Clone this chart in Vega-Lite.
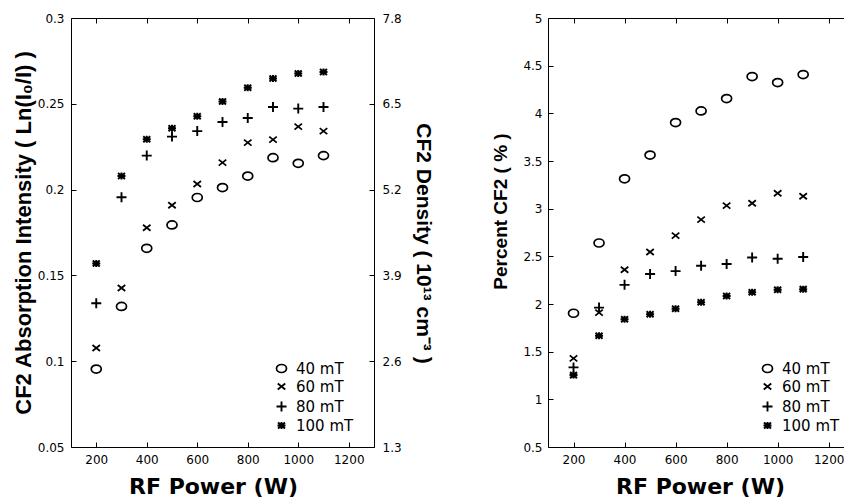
{
  "$schema": "https://vega.github.io/schema/vega-lite/v6.json",
  "padding": {"left": 12, "top": 12, "right": 0, "bottom": 0},
  "background": "white",
  "spacing": 57,
  "config": {
    "view": {"stroke": null},
    "axis": {"domainColor": "black", "domainWidth": 1, "tickColor": "black", "tickWidth": 1, "tickSize": -5, "grid": false, "labelFont": "DejaVu Sans", "labelFontSize": 12, "labelColor": "black", "titleColor": "black", "labelPadding": 12},
    "legend": {"labelFont": "DejaVu Sans", "labelFontSize": 15, "labelColor": "black", "padding": 0, "rowPadding": 2, "labelOffset": 7}
  },
  "datasets": {
    "cf2": [
      {"power": 200, "pressure": "40 mT", "absorbance": 0.0954, "percent": 1.903},
      {"power": 300, "pressure": "40 mT", "absorbance": 0.1319, "percent": 2.640},
      {"power": 400, "pressure": "40 mT", "absorbance": 0.1658, "percent": 3.313},
      {"power": 500, "pressure": "40 mT", "absorbance": 0.1794, "percent": 3.562},
      {"power": 600, "pressure": "40 mT", "absorbance": 0.1954, "percent": 3.903},
      {"power": 700, "pressure": "40 mT", "absorbance": 0.2012, "percent": 4.025},
      {"power": 800, "pressure": "40 mT", "absorbance": 0.2079, "percent": 4.155},
      {"power": 900, "pressure": "40 mT", "absorbance": 0.2186, "percent": 4.386},
      {"power": 1000, "pressure": "40 mT", "absorbance": 0.2153, "percent": 4.323},
      {"power": 1100, "pressure": "40 mT", "absorbance": 0.2198, "percent": 4.407},
      {"power": 200, "pressure": "60 mT", "absorbance": 0.1077, "percent": 1.430},
      {"power": 300, "pressure": "60 mT", "absorbance": 0.1427, "percent": 1.910},
      {"power": 400, "pressure": "60 mT", "absorbance": 0.1778, "percent": 2.359},
      {"power": 500, "pressure": "60 mT", "absorbance": 0.1909, "percent": 2.545},
      {"power": 600, "pressure": "60 mT", "absorbance": 0.2033, "percent": 2.717},
      {"power": 700, "pressure": "60 mT", "absorbance": 0.2157, "percent": 2.885},
      {"power": 800, "pressure": "60 mT", "absorbance": 0.2274, "percent": 3.032},
      {"power": 900, "pressure": "60 mT", "absorbance": 0.2291, "percent": 3.057},
      {"power": 1000, "pressure": "60 mT", "absorbance": 0.2367, "percent": 3.162},
      {"power": 1100, "pressure": "60 mT", "absorbance": 0.2341, "percent": 3.130},
      {"power": 200, "pressure": "80 mT", "absorbance": 0.1338, "percent": 1.335},
      {"power": 300, "pressure": "80 mT", "absorbance": 0.1955, "percent": 1.962},
      {"power": 400, "pressure": "80 mT", "absorbance": 0.2198, "percent": 2.201},
      {"power": 500, "pressure": "80 mT", "absorbance": 0.2309, "percent": 2.314},
      {"power": 600, "pressure": "80 mT", "absorbance": 0.2341, "percent": 2.345},
      {"power": 700, "pressure": "80 mT", "absorbance": 0.2394, "percent": 2.401},
      {"power": 800, "pressure": "80 mT", "absorbance": 0.2417, "percent": 2.419},
      {"power": 900, "pressure": "80 mT", "absorbance": 0.2481, "percent": 2.488},
      {"power": 1000, "pressure": "80 mT", "absorbance": 0.2472, "percent": 2.475},
      {"power": 1100, "pressure": "80 mT", "absorbance": 0.2481, "percent": 2.493},
      {"power": 200, "pressure": "100 mT", "absorbance": 0.1569, "percent": 1.254},
      {"power": 300, "pressure": "100 mT", "absorbance": 0.2079, "percent": 1.668},
      {"power": 400, "pressure": "100 mT", "absorbance": 0.2293, "percent": 1.840},
      {"power": 500, "pressure": "100 mT", "absorbance": 0.2357, "percent": 1.893},
      {"power": 600, "pressure": "100 mT", "absorbance": 0.2428, "percent": 1.949},
      {"power": 700, "pressure": "100 mT", "absorbance": 0.2514, "percent": 2.019},
      {"power": 800, "pressure": "100 mT", "absorbance": 0.2594, "percent": 2.085},
      {"power": 900, "pressure": "100 mT", "absorbance": 0.2648, "percent": 2.124},
      {"power": 1000, "pressure": "100 mT", "absorbance": 0.2677, "percent": 2.149},
      {"power": 1100, "pressure": "100 mT", "absorbance": 0.2685, "percent": 2.156}
    ]
  },
  "hconcat": [
    {
      "width": 303,
      "height": 429,
      "data": {"name": "cf2"},
      "layer": [
        {
          "mark": {"type": "point", "filled": false, "color": "black", "opacity": 1, "size": 100},
          "encoding": {
            "x": {"field": "power", "type": "quantitative", "scale": {"domain": [100, 1300], "nice": false, "zero": false},
              "axis": {"values": [200, 400, 600, 800, 1000, 1200], "format": "d", "title": "RF Power (W)", "titleFont": "DejaVu Sans", "titleFontSize": 22, "titleFontWeight": "bold", "titlePadding": 11, "titleX": 142}},
            "y": {"field": "absorbance", "type": "quantitative", "scale": {"domain": [0.05, 0.3], "nice": false, "zero": false},
              "axis": {"values": [0.05, 0.1, 0.15, 0.2, 0.25, 0.3], "format": "~g", "title": "CF2 Absorption Intensity ( Ln(I₀/I) )", "titleFont": "Liberation Sans", "titleFontSize": 22, "titleFontWeight": "bold", "titlePadding": 2}},
            "shape": {"field": "pressure", "type": "nominal",
              "scale": {"domain": ["40 mT", "60 mT", "80 mT", "100 mT"], "range": ["M-1,0A1,0.8,0,1,1,1,0A1,0.8,0,1,1,-1,0Z", "M-0.75,-0.6L0.75,0.6M-0.75,0.6L0.75,-0.6", "M-1,0L1,0M0,-1L0,1", "M-0.8,0L0.8,0M0,-0.7L0,0.7M-0.7,-0.6L0.7,0.6M-0.7,0.6L0.7,-0.6"]},
              "legend": {"title": null, "orient": "none", "legendX": 203, "legendY": 343}},
            "strokeWidth": {"field": "pressure", "type": "nominal",
              "scale": {"domain": ["40 mT", "60 mT", "80 mT", "100 mT"], "range": [1.7, 2, 1.1, 2]},
              "legend": {"title": null, "orient": "none", "legendX": 203, "legendY": 343}}
          }
        },
        {
          "mark": {"type": "point", "opacity": 0},
          "encoding": {
            "x": {"field": "power", "type": "quantitative", "scale": {"domain": [100, 1300], "nice": false, "zero": false},
              "axis": {"orient": "top", "values": [200, 400, 600, 800, 1000, 1200], "labels": false, "title": null}},
            "y": {"field": "absorbance", "type": "quantitative", "scale": {"domain": [0.05, 0.3], "nice": false, "zero": false},
              "axis": {"orient": "right", "values": [0.05, 0.1, 0.15, 0.2, 0.25, 0.3], "labelExpr": "format(datum.value * 26, '.1f')", "labelPadding": 13, "title": "CF2 Density ( 10¹³ cm⁻³ )", "titleAngle": 90, "titleFont": "Liberation Sans", "titleFontSize": 21, "titleFontWeight": "bold", "titlePadding": 11, "titleY": 225}}
          }
        }
      ],
      "resolve": {"axis": {"x": "independent", "y": "independent"}}
    },
    {
      "width": 296,
      "height": 429,
      "data": {"name": "cf2"},
      "layer": [
        {
          "mark": {"type": "point", "filled": false, "color": "black", "opacity": 1, "size": 100},
          "encoding": {
            "x": {"field": "power", "type": "quantitative", "scale": {"domain": [100, 1260], "nice": false, "zero": false},
              "axis": {"values": [200, 400, 600, 800, 1000, 1200], "format": "d", "title": "RF Power (W)", "titleFont": "DejaVu Sans", "titleFontSize": 22, "titleFontWeight": "bold", "titlePadding": 11, "titleX": 152}},
            "y": {"field": "percent", "type": "quantitative", "scale": {"domain": [0.5, 5], "nice": false, "zero": false},
              "axis": {"values": [0.5, 1, 1.5, 2, 2.5, 3, 3.5, 4, 4.5, 5], "format": "~g", "labelPadding": 11, "title": "Percent CF2 ( % )", "titleFont": "Liberation Sans", "titleFontSize": 19, "titleFontWeight": "bold", "titlePadding": 12, "titleY": 193}},
            "shape": {"field": "pressure", "type": "nominal",
              "scale": {"domain": ["40 mT", "60 mT", "80 mT", "100 mT"], "range": ["M-1,0A1,0.8,0,1,1,1,0A1,0.8,0,1,1,-1,0Z", "M-0.75,-0.6L0.75,0.6M-0.75,0.6L0.75,-0.6", "M-1,0L1,0M0,-1L0,1", "M-0.8,0L0.8,0M0,-0.7L0,0.7M-0.7,-0.6L0.7,0.6M-0.7,0.6L0.7,-0.6"]},
              "legend": {"title": null, "orient": "none", "legendX": 212, "legendY": 343}},
            "strokeWidth": {"field": "pressure", "type": "nominal",
              "scale": {"domain": ["40 mT", "60 mT", "80 mT", "100 mT"], "range": [1.7, 2, 1.1, 2]},
              "legend": {"title": null, "orient": "none", "legendX": 212, "legendY": 343}}
          }
        },
        {
          "mark": {"type": "point", "opacity": 0},
          "encoding": {
            "x": {"field": "power", "type": "quantitative", "scale": {"domain": [100, 1260], "nice": false, "zero": false},
              "axis": {"orient": "top", "values": [200, 400, 600, 800, 1000, 1200], "labels": false, "title": null}}
          }
        }
      ],
      "resolve": {"axis": {"x": "independent"}}
    }
  ],
  "resolve": {"scale": {"shape": "independent", "strokeWidth": "independent"}, "legend": {"shape": "independent", "strokeWidth": "independent"}}
}
